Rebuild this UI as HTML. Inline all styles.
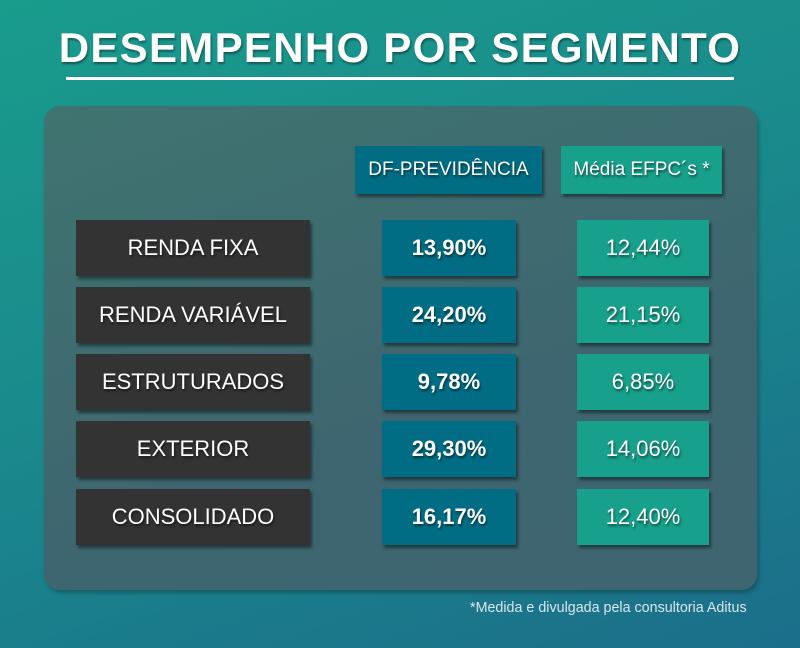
<!DOCTYPE html>
<html><head><meta charset="utf-8"><style>
body{margin:0;width:800px;height:648px;overflow:hidden;font-family:"Liberation Sans",sans-serif;}
#bg{position:absolute;left:0;top:0;width:800px;height:648px;background:linear-gradient(160deg,#199c8c 0%,#1a8a8c 45%,#1b6e8a 100%);}
#title{position:absolute;left:0;top:24px;width:800px;text-align:center;color:#fff;font-weight:bold;font-size:42px;letter-spacing:1.3px;text-shadow:1px 2px 2px rgba(0,0,0,.4);}
#rule{position:absolute;left:66px;top:77px;width:668px;height:3px;background:#fff;}
#panel{position:absolute;left:44px;top:106px;width:713px;height:484px;border-radius:16px;background:linear-gradient(160deg,#3f7470,#3e6670 60%,#3f6570);box-shadow:2px 3px 4px rgba(0,0,0,.25);}
.box{position:absolute;color:#fff;display:flex;align-items:center;justify-content:center;box-shadow:2px 3px 3px rgba(0,0,0,.45);text-shadow:1px 2px 2px rgba(0,0,0,.5);}
.lbl{left:76px;width:234px;height:56px;background:#333;font-size:22px;}
.df{left:382px;width:134px;height:56px;background:#006d84;font-size:22px;font-weight:bold;}
.ef{left:577px;width:132px;height:56px;background:#17a08b;font-size:22px;}
.hd{top:146px;height:48px;font-size:19px;}
#note{position:absolute;left:470px;top:600px;color:#d8e6ea;font-size:14.3px;}
</style></head><body>
<div id="bg"></div>
<div id="title">DESEMPENHO POR SEGMENTO</div>
<div id="rule"></div>
<div id="panel"></div>
<div class="box hd" style="left:355px;width:187px;background:#006d84">DF-PREVIDÊNCIA</div>
<div class="box hd" style="left:561px;width:161px;background:#17a08b">Média EFPC´s *</div>
<div id="rows"></div>
<div id="note">*Medida e divulgada pela consultoria Aditus</div>
<script>
const categories=["RENDA FIXA","RENDA VARIÁVEL","ESTRUTURADOS","EXTERIOR","CONSOLIDADO"];
const dfValues=["13,90%","24,20%","9,78%","29,30%","16,17%"];
const efpcValues=["12,44%","21,15%","6,85%","14,06%","12,40%"];
const tops=[220,287,354,421,489];
const rows=document.getElementById('rows');
categories.forEach((c,i)=>{
  const a=document.createElement('div');a.className='box lbl';a.style.top=tops[i]+'px';a.textContent=c;
  
  
  const b=document.createElement('div');b.className='box df';b.style.top=tops[i]+'px';b.textContent=dfValues[i];
  
  
  const d=document.createElement('div');d.className='box ef';d.style.top=tops[i]+'px';d.textContent=efpcValues[i];
  
  
  rows.append(a,b,d);
});
</script>
</body></html>
